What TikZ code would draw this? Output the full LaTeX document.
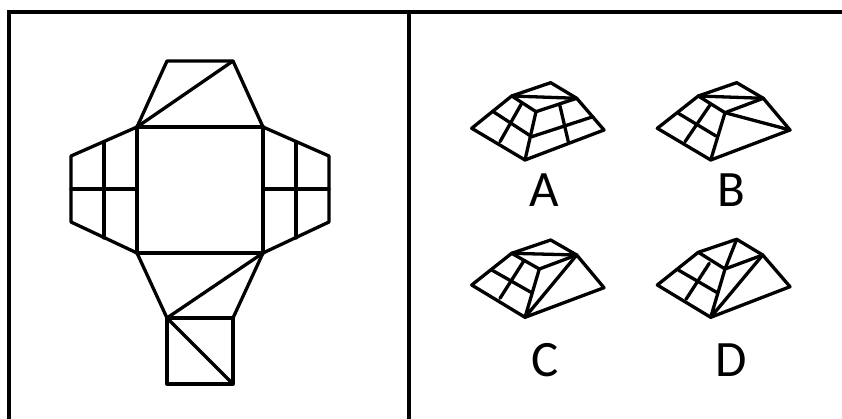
\documentclass[tikz,border=0pt]{standalone}
\usepackage{fontspec}
\setmainfont{Carlito}
\usetikzlibrary{positioning}

\tikzset{
  edge/.style={line width=3.3pt, line join=round, line cap=round},
  frameline/.style={line width=4pt},
  letter/.style={font=\fontsize{51}{51}\selectfont, inner sep=0pt}
}

\begin{document}
\begin{tikzpicture}[x=1pt, y=-1pt]
  \useasboundingbox (0,0) rectangle (842,419);

  % Rahmen
  \draw[frameline] (9,419) -- (9,12) -- (842,12);
  \draw[frameline] (409,12) -- (409,419);

  % Netz
  \draw[edge] (137,127) rectangle (263,253);
  \draw[edge] (137,127) -- (167,61) -- (233,61) -- (263,127);
  \draw[edge] (137,127) -- (233,61);
  \draw[edge] (137,127) -- (71,156) -- (71,222) -- (137,253);
  \draw[edge] (104,142) -- (104,238);
  \draw[edge] (71,189) -- (137,189);
  \draw[edge] (263,127) -- (329,156) -- (329,222) -- (263,253);
  \draw[edge] (296,142) -- (296,238);
  \draw[edge] (263,189) -- (329,189);
  \draw[edge] (137,253) -- (167,318) -- (233,318) -- (263,253);
  \draw[edge] (263,253) -- (167,318);
  \draw[edge] (167,318) rectangle (233,384);
  \draw[edge] (167,318) -- (233,384);

  % Figur A
  \draw[edge] (471.7,128.3) -- (525,160) -- (604,130) -- (576.7,98.3) -- (550.7,82.7) -- (511.7,96) -- cycle;
  \draw[edge] (511.7,96) -- (576.7,98.3);
  \draw[edge] (511.7,96) -- (536,111.7) -- (576.7,98.3);
  \draw[edge] (536,111.7) -- (525,160);
  \draw[edge] (493.3,111.7) -- (531.7,136.7) -- (593,116.7);
  \draw[edge] (521.7,103.3) -- (500,141.7);
  \draw[edge] (560,106) -- (568.3,141.7);

  % Figur B
  \draw[edge] (657.3,128.3) -- (710.7,160) -- (790,130) -- (763.3,98.3) -- (736.7,82.7) -- (698.3,96) -- cycle;
  \draw[edge] (698.3,96) -- (763.3,98.3);
  \draw[edge] (698.3,96) -- (725,112.7) -- (763.3,98.3);
  \draw[edge] (725,112.7) -- (710.7,160);
  \draw[edge] (725,112.7) -- (790,130);
  \draw[edge] (678.3,113.3) -- (716,136);
  \draw[edge] (710,105) -- (685,141.7);

  % Figur C
  \draw[edge] (471.7,285) -- (525,317.3) -- (604,287.7) -- (576.7,255) -- (550.7,240) -- (511.7,253.3) -- cycle;
  \draw[edge] (511.7,253.3) -- (576.7,255);
  \draw[edge] (511.7,253.3) -- (539.3,269) -- (576.7,255);
  \draw[edge] (539.3,269) -- (525,317.3) -- (576.7,255);
  \draw[edge] (491.7,270) -- (531.7,292.7);
  \draw[edge] (524,260.7) -- (500,298.3);

  % Figur D
  \draw[edge] (657.3,285) -- (710.7,317.3) -- (790,286.7) -- (762.7,255) -- (736.7,239.3) -- (698.3,252.3) -- cycle;
  \draw[edge] (698.3,252.3) -- (725,269) -- (762.7,255);
  \draw[edge] (725,269) -- (736.7,239.3);
  \draw[edge] (725,269) -- (710.7,317.3) -- (762.7,255);
  \draw[edge] (678.3,270) -- (717.3,292.7);
  \draw[edge] (709.3,263.3) -- (686,299.3);

  % Buchstaben
  \node[letter] (labelA) at (544,190) {A};
  \node[letter] (labelB) at (731.5,190) {B};
  \node[letter] (labelC) at (545,360) {C};
  \node[letter] (labelD) at (731.5,360) {D};
\end{tikzpicture}
\end{document}
